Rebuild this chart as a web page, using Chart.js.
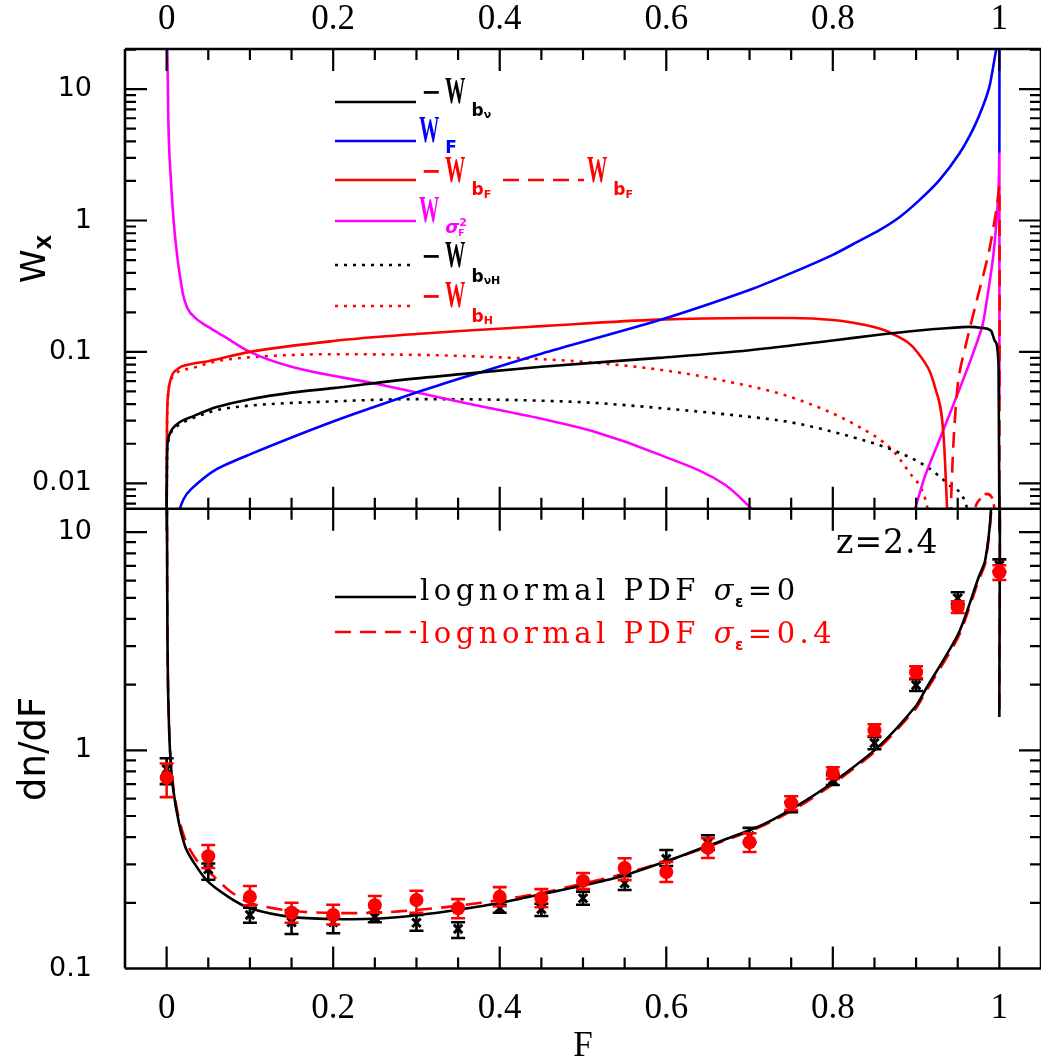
<!DOCTYPE html>
<html><head><meta charset="utf-8">
<script src="https://cdn.jsdelivr.net/npm/chart.js@4/dist/chart.umd.min.js"></script>
<style>html,body{margin:0;padding:0;background:#fff;}#wrap{position:relative;width:1041px;height:1059px;}</style>
</head><body><div id="wrap"><canvas id="c" width="1041" height="1059"></canvas></div>
<script>
// ---------- tick labels ----------
const xTickVals = [0, 0.2, 0.4, 0.6, 0.8, 1];
const topTickVals = [0.01, 0.1, 1, 10];
const botTickVals = [0.1, 1, 10];

// ---------- top panel: weights W_X(F) ----------
const bvF = [0, 0.0004, 0.0015, 0.004, 0.007, 0.015, 0.03, 0.06, 0.1, 0.15, 0.2, 0.28, 0.357, 0.45, 0.591, 0.7, 0.8, 0.855, 0.9, 0.94, 0.963, 0.98, 0.99, 0.995, 0.999, 1.0];
const bvW = [0.005, 0.015, 0.021, 0.024, 0.026, 0.029, 0.032, 0.038, 0.0436, 0.049, 0.053, 0.061, 0.068, 0.077, 0.09, 0.103, 0.122, 0.135, 0.145, 0.152, 0.155, 0.152, 0.145, 0.12, 0.08, 0.005];

const bvhF = [0, 0.0004, 0.0015, 0.005, 0.012, 0.03, 0.06, 0.1, 0.2, 0.3, 0.357, 0.45, 0.511, 0.6, 0.671, 0.751, 0.831, 0.871, 0.911, 0.939, 0.959, 0.965];
const bvhW = [0.005, 0.015, 0.02, 0.024, 0.027, 0.031, 0.036, 0.039, 0.042, 0.0437, 0.0436, 0.0425, 0.041, 0.037, 0.0335, 0.029, 0.0218, 0.018, 0.0136, 0.0098, 0.0072, 0.005];

const bFF = [0, 0.0004, 0.0015, 0.005, 0.013, 0.03, 0.05, 0.1, 0.2, 0.3, 0.357, 0.45, 0.591, 0.7, 0.75, 0.8, 0.831, 0.871, 0.903, 0.923, 0.933, 0.938];
const bFW = [0.005, 0.025, 0.045, 0.062, 0.074, 0.081, 0.085, 0.1, 0.121, 0.137, 0.145, 0.157, 0.176, 0.181, 0.181, 0.175, 0.164, 0.138, 0.097, 0.053, 0.023, 0.005];

const bFposF = [0.941, 0.945, 0.951, 0.963, 0.972, 0.987, 0.997, 1.0, 1.0];
const bFposW = [0.005, 0.021, 0.063, 0.138, 0.235, 0.56, 1.27, 1.8, 0.005];

const bFbumpF = [0.967, 0.972, 0.977, 0.985, 0.991, 0.993, 0.996];
const bFbumpW = [0.005, 0.0068, 0.0076, 0.0083, 0.0078, 0.0071, 0.005];

const bHF = [0, 0.0004, 0.0015, 0.005, 0.013, 0.03, 0.06, 0.1, 0.2, 0.3, 0.357, 0.45, 0.511, 0.6, 0.671, 0.751, 0.831, 0.871, 0.891, 0.911, 0.917];
const bHW = [0.005, 0.025, 0.045, 0.06, 0.07, 0.075, 0.085, 0.091, 0.096, 0.095, 0.093, 0.088, 0.083, 0.072, 0.06, 0.045, 0.027, 0.018, 0.0123, 0.0076, 0.005];

const wFF = [0.01, 0.02, 0.03, 0.06, 0.1, 0.2, 0.3, 0.357, 0.45, 0.591, 0.699, 0.75, 0.8, 0.83, 0.856, 0.88, 0.904, 0.928, 0.952, 0.968, 0.98, 0.988, 0.994, 0.997, 0.999, 1.0, 1.0];
const wFW = [0.005, 0.0075, 0.0091, 0.0128, 0.0166, 0.0295, 0.049, 0.064, 0.097, 0.174, 0.295, 0.398, 0.548, 0.69, 0.845, 1.06, 1.43, 2.03, 3.24, 4.9, 7.35, 10.4, 16.7, 22, 40, 40, 3.3];

const sigF1 = [0.0003, 0.002, 0.005, 0.009, 0.013, 0.0165, 0.0196, 0.025, 0.035, 0.05, 0.07, 0.1, 0.15, 0.25, 0.357, 0.45, 0.511, 0.591, 0.671, 0.705];
const sigW1 = [40, 6, 2.1, 0.9, 0.52, 0.36, 0.275, 0.215, 0.18, 0.155, 0.13, 0.1, 0.077, 0.0575, 0.041, 0.031, 0.025, 0.0166, 0.0097, 0.0062];

const sigF2 = [0.894, 0.91, 0.93, 0.951, 0.965, 0.979, 0.983, 0.993, 0.999, 1.0, 1.0];
const sigW2 = [0.005, 0.011, 0.023, 0.05, 0.085, 0.153, 0.206, 0.56, 1.7, 3.3, 0.042];

// ---------- bottom panel: PDF dn/dF ----------
const pdf0F = [0, 0.0008, 0.0016, 0.004, 0.008, 0.015, 0.024, 0.048, 0.075, 0.1, 0.151, 0.2, 0.25, 0.303, 0.35, 0.4, 0.45, 0.503, 0.543, 0.6, 0.65, 0.7, 0.727, 0.76, 0.799, 0.855, 0.9, 0.911, 0.951, 0.975, 0.983, 0.99, 0.994, 1.0, 1.0];
const pdf0V = [40, 4.5, 2.03, 1.0, 0.658, 0.46, 0.349, 0.254, 0.212, 0.189, 0.172, 0.1686, 0.169, 0.176, 0.186, 0.1995, 0.219, 0.2413, 0.2624, 0.31, 0.365, 0.43, 0.479, 0.565, 0.708, 1.04, 1.6, 1.89, 3.44, 6.2, 7.43, 12.8, 40, 40, 1.42];

const pdf4F = [0, 0.0008, 0.0016, 0.004, 0.008, 0.015, 0.024, 0.036, 0.05, 0.075, 0.1, 0.151, 0.2, 0.25, 0.3, 0.35, 0.4, 0.45, 0.5, 0.543, 0.6, 0.65, 0.7, 0.727, 0.76, 0.8, 0.855, 0.9, 0.911, 0.951, 0.975, 0.983, 0.99, 0.994, 1.0, 1.0];
const pdf4V = [40, 4.5, 2.05, 1.02, 0.68, 0.48, 0.375, 0.314, 0.28, 0.228, 0.1995, 0.1834, 0.1795, 0.18, 0.1853, 0.194, 0.2059, 0.222, 0.245, 0.268, 0.31, 0.362, 0.425, 0.473, 0.555, 0.7, 1.02, 1.56, 1.84, 3.33, 6.0, 7.2, 12.3, 40, 40, 1.42];

// measured dn/dF points
const binF = [0, 0.05, 0.1, 0.15, 0.2, 0.25, 0.3, 0.35, 0.4, 0.45, 0.5, 0.55, 0.6, 0.65, 0.7, 0.75, 0.8, 0.85, 0.9, 0.95, 1.0];
const obs0 = [0.82, 0.285, 0.176, 0.163, 0.163, 0.172, 0.162, 0.152, 0.189, 0.187, 0.21, 0.246, 0.318, 0.376, 0.405, 0.543, 0.73, 1.08, 1.99, 4.98, 7.05];
const obs0Lo = [0.70, 0.255, 0.162, 0.144, 0.145, 0.163, 0.149, 0.138, 0.18, 0.174, 0.196, 0.229, 0.295, 0.349, 0.379, 0.52, 0.694, 1.012, 1.87, 4.68, 6.6];
const obs0Hi = [0.92, 0.303, 0.19, 0.185, 0.17, 0.18, 0.176, 0.163, 0.196, 0.198, 0.225, 0.265, 0.349, 0.408, 0.441, 0.579, 0.77, 1.151, 2.12, 5.3, 7.5];
const obs4 = [0.75, 0.327, 0.213, 0.18, 0.176, 0.195, 0.206, 0.189, 0.213, 0.21, 0.252, 0.289, 0.277, 0.357, 0.379, 0.573, 0.787, 1.237, 2.28, 4.53, 6.55];
const obs4Lo = [0.61, 0.289, 0.195, 0.162, 0.159, 0.18, 0.18, 0.17, 0.193, 0.191, 0.231, 0.254, 0.249, 0.321, 0.342, 0.533, 0.739, 1.163, 2.14, 4.26, 6.03];
const obs4Hi = [0.87, 0.368, 0.239, 0.2, 0.196, 0.215, 0.227, 0.208, 0.236, 0.231, 0.274, 0.32, 0.308, 0.396, 0.417, 0.616, 0.837, 1.316, 2.43, 4.82, 7.05];

// ---------- helpers ----------
const pts = (xs, ys) => xs.map((x, i) => ({x, y: ys[i]}));
const RED = '#ff0000', BLUE = '#0000ff', MAG = '#ff00ff', BLK = '#000000';
function curve(label, xs, ys, color, axis, dash, mono) {
  const strict = xs.every((v, i) => i === 0 || v > xs[i - 1]);
  return {type: 'line', label, data: pts(xs, ys), borderColor: color, backgroundColor: color,
    borderWidth: 2.6, borderDash: dash || [], pointRadius: 0, tension: 0.25, fill: false,
    cubicInterpolationMode: (mono && strict) ? 'monotone' : 'default',
    xAxisID: 'x', yAxisID: axis, order: 5};
}

const datasets = [
  curve('-W_bv', bvF, bvW, BLK, 'yTop', [], true),
  curve('W_F', wFF, wFW, BLUE, 'yTop'),
  curve('-W_bF', bFF, bFW, RED, 'yTop', [], true),
  curve('W_bF', bFposF, bFposW, RED, 'yTop', [16, 9]),
  curve('W_bF bump', bFbumpF, bFbumpW, RED, 'yTop', [10, 6], true),
  curve('W_sigma1', sigF1, sigW1, MAG, 'yTop', [], true),
  curve('W_sigma2', sigF2, sigW2, MAG, 'yTop'),
  curve('-W_bvH', bvhF, bvhW, BLK, 'yTop', [3, 6], true),
  curve('-W_bH', bHF, bHW, RED, 'yTop', [3, 6], true),
  curve('pdf0', pdf0F, pdf0V, BLK, 'yBot'),
  curve('pdf4', pdf4F, pdf4V, RED, 'yBot', [16, 9]),
  {type: 'scatter', label: 'obs0', data: pts(binF, obs0), showLine: false, pointStyle: 'crossRot',
    pointRadius: 6, borderColor: BLK, borderWidth: 3, xAxisID: 'x', yAxisID: 'yBot', order: 2,
    errLo: obs0Lo, errHi: obs0Hi},
  {type: 'scatter', label: 'obs4', data: pts(binF, obs4), showLine: false, pointStyle: 'circle',
    pointRadius: 7, borderColor: RED, backgroundColor: RED, borderWidth: 0, xAxisID: 'x', yAxisID: 'yBot', order: 1,
    errLo: obs4Lo, errHi: obs4Hi}
];

// clip each dataset to its own panel, draw error bars under markers
const panelClip = {
  id: 'panelClip',
  beforeDatasetDraw(chart, args) {
    const m = args.meta, xs = chart.scales[m.xAxisID], ys = chart.scales[m.yAxisID];
    const ctx = chart.ctx;
    ctx.save(); ctx.beginPath();
    ctx.rect(xs.left, ys.top, xs.right - xs.left, ys.bottom - ys.top); ctx.clip();
    const ds = chart.data.datasets[args.index];
    if (ds.errLo) {
      ctx.strokeStyle = ds.borderColor; ctx.lineWidth = 2.6;
      ds.data.forEach((p, i) => {
        const px = xs.getPixelForValue(p.x), lo = ys.getPixelForValue(ds.errLo[i]), hi = ys.getPixelForValue(ds.errHi[i]);
        ctx.beginPath();
        ctx.moveTo(px, lo); ctx.lineTo(px, hi);
        ctx.moveTo(px - 7, lo); ctx.lineTo(px + 7, lo);
        ctx.moveTo(px - 7, hi); ctx.lineTo(px + 7, hi);
        ctx.stroke();
      });
    }
  },
  afterDatasetDraw(chart) { chart.ctx.restore(); }
};

// frame and inward tick marks
const frame = {
  id: 'frame',
  afterDraw(chart) {
    const ctx = chart.ctx, xs = chart.scales.x, yt = chart.scales.yTop, yb = chart.scales.yBot;
    const L = xs.left, R = xs.right, T = yt.top, M = yt.bottom, B = yb.bottom;
    ctx.save(); ctx.strokeStyle = '#000'; ctx.lineWidth = 2.6;
    ctx.beginPath();
    ctx.moveTo(L, T); ctx.lineTo(R, T); ctx.moveTo(L, M); ctx.lineTo(R, M);
    ctx.moveTo(L, B); ctx.lineTo(R, B); ctx.moveTo(L, T); ctx.lineTo(L, B);
    ctx.moveTo(R, T); ctx.lineTo(R, B);
    ctx.stroke();
    ctx.lineWidth = 2.2;
    ctx.beginPath();
    for (let k = 0; k <= 20; k++) {
      const px = xs.getPixelForValue(k * 0.05);
      const len = k % 4 === 0 ? 22 : 11;
      ctx.moveTo(px, T); ctx.lineTo(px, T + len);
      ctx.moveTo(px, M - len); ctx.lineTo(px, M + len);
      ctx.moveTo(px, B); ctx.lineTo(px, B - len);
    }
    for (const sc of [yt, yb]) {
      for (let d = -3; d <= 2; d++) for (let m = 1; m <= 9; m++) {
        const v = m * Math.pow(10, d);
        if (v < sc.min * 1.0001 || v > sc.max) continue;
        const py = sc.getPixelForValue(v);
        const len = m === 1 ? 22 : 11;
        ctx.moveTo(L, py); ctx.lineTo(L + len, py);
        ctx.moveTo(R, py); ctx.lineTo(R - len, py);
      }
    }
    ctx.stroke();
    ctx.restore();
  }
};

function run(ctx, x, y, parts) {
  let cx = x;
  for (const p of parts) {
    ctx.font = p.f;
    const w = ctx.measureText(p.t).width * (p.sx || 1);
    ctx.save(); ctx.translate(cx + (p.dx || 0), y + (p.dy || 0)); ctx.scale(p.sx || 1, 1);
    ctx.fillText(p.t, 0, 0); ctx.restore();
    cx += w + (p.dx || 0) + (p.gap || 0);
  }
  return cx;
}

const WF = 'bold 37px "Liberation Serif"';
const SUBF = 'bold 17px "DejaVu Sans"';
const TINYF = 'bold 11px "DejaVu Sans"';
const MINUS = {t: '\u2212', f: 'bold 24px "DejaVu Sans"', dy: -3, gap: 4};
const Wp = {t: 'W', f: WF, sx: 0.55, gap: 6};

const texts = {
  id: 'texts',
  afterDraw(chart) {
    const ctx = chart.ctx;
    ctx.save();
    ctx.textBaseline = 'alphabetic'; ctx.textAlign = 'left';
    const samples = [
      {y: 102, c: BLK, d: []}, {y: 141, c: BLUE, d: []}, {y: 180, c: RED, d: []},
      {y: 221, c: MAG, d: []}, {y: 265, c: BLK, d: [3, 6]}, {y: 306, c: RED, d: [3, 6]},
      {y: 597, c: BLK, d: []}, {y: 632, c: RED, d: [16, 9]}
    ];
    ctx.lineWidth = 2.6;
    for (const s of samples) {
      ctx.strokeStyle = s.c; ctx.setLineDash(s.d);
      ctx.beginPath(); ctx.moveTo(335, s.y); ctx.lineTo(416, s.y); ctx.stroke();
    }
    ctx.strokeStyle = RED; ctx.setLineDash([16, 9]);
    ctx.beginPath(); ctx.moveTo(503, 180); ctx.lineTo(584, 180); ctx.stroke();
    ctx.setLineDash([]);

    ctx.fillStyle = BLK;
    run(ctx, 421, 103, [MINUS, Wp, {t: 'b', f: SUBF, dy: 13}, {t: '\u03bd', f: TINYF, dy: 15}]);
    ctx.fillStyle = BLUE;
    run(ctx, 419, 142, [Wp, {t: 'F', f: SUBF, dy: 11}]);
    ctx.fillStyle = RED;
    run(ctx, 421, 182, [MINUS, Wp, {t: 'b', f: SUBF, dy: 13}, {t: 'F', f: TINYF, dy: 16}]);
    run(ctx, 587, 182, [Wp, {t: 'b', f: SUBF, dy: 13}, {t: 'F', f: TINYF, dy: 16}]);
    ctx.fillStyle = MAG;
    const cx = run(ctx, 419, 222, [Wp, {t: '\u03c3', f: 'bold italic 18px "DejaVu Sans"', dy: 11}]);
    run(ctx, cx, 222, [{t: '2', f: TINYF, dy: 4}]);
    run(ctx, cx - 1, 222, [{t: 'F', f: 'bold 9px "DejaVu Sans"', dy: 14}]);
    ctx.fillStyle = BLK;
    run(ctx, 421, 267, [MINUS, Wp, {t: 'b', f: SUBF, dy: 15}, {t: '\u03bdH', f: TINYF, dy: 17}]);
    ctx.fillStyle = RED;
    run(ctx, 421, 307, [MINUS, Wp, {t: 'b', f: SUBF, dy: 15}, {t: 'H', f: TINYF, dy: 17}]);

    // bottom legend
    ctx.letterSpacing = '4.5px';
    ctx.fillStyle = BLK;
    let e = run(ctx, 420, 600, [{t: 'lognormal PDF ', f: '29px "DejaVu Serif"'}, {t: '\u03c3', f: 'italic 29px "DejaVu Serif"'}]);
    run(ctx, e - 3, 600, [{t: '\u03b5', f: 'bold 15px "DejaVu Sans"', dy: 7}, {t: '=0', f: '29px "DejaVu Serif"'}]);
    ctx.fillStyle = RED;
    e = run(ctx, 420, 643, [{t: 'lognormal PDF ', f: '29px "DejaVu Serif"'}, {t: '\u03c3', f: 'italic 29px "DejaVu Serif"'}]);
    run(ctx, e - 3, 643, [{t: '\u03b5', f: 'bold 15px "DejaVu Sans"', dy: 7}, {t: '=0.4', f: '29px "DejaVu Serif"'}]);
    ctx.letterSpacing = '1px';
    ctx.fillStyle = BLK;
    run(ctx, 836, 553, [{t: 'z=2.4', f: '33px "DejaVu Serif"'}]);
    ctx.letterSpacing = '0px';

    // axis titles
    ctx.save(); ctx.translate(45, 283); ctx.rotate(-Math.PI / 2);
    run(ctx, 0, 0, [{t: 'W', f: '34px "DejaVu Sans"'}, {t: 'X', f: 'bold 19px "DejaVu Sans"', dy: 6}]);
    ctx.restore();
    ctx.save(); ctx.translate(45, 801); ctx.rotate(-Math.PI / 2);
    run(ctx, 0, 0, [{t: 'dn/dF', f: '37px "DejaVu Sans"'}]);
    ctx.restore();
    ctx.textAlign = 'center';
    ctx.font = '35px "Liberation Serif"';
    ctx.fillText('F', 583, 1056);
    ctx.restore();
  }
};

const fmt = v => String(Math.round(v * 1000) / 1000);
const xTickFont = {family: 'Liberation Serif', size: 35};
const yTickFont = {family: 'DejaVu Sans', size: 27};
const zeroPadX = s => { s.paddingLeft = 0; s.paddingRight = 0; };
const zeroPadY = s => { s.paddingTop = 0; s.paddingBottom = 0; };

new Chart(document.getElementById('c'), {
  type: 'line',
  data: {datasets},
  options: {
    responsive: false, animation: false, devicePixelRatio: 1,
    layout: {autoPadding: false, padding: {left: 0, top: 0, right: -1, bottom: 0}},
    plugins: {legend: {display: false}, tooltip: {enabled: false}},
    scales: {
      x: {type: 'linear', position: 'bottom', min: -0.05, max: 1.05,
        afterBuildTicks: s => { s.ticks = xTickVals.map(v => ({value: v})); },
        afterFit: s => { s.height = 90.5; zeroPadX(s); },
        ticks: {callback: fmt, font: xTickFont, color: '#000', padding: 11, maxRotation: 0, autoSkip: false},
        grid: {display: false}, border: {display: false}},
      x2: {type: 'linear', axis: 'x', position: 'top', min: -0.05, max: 1.05,
        afterBuildTicks: s => { s.ticks = xTickVals.map(v => ({value: v})); },
        afterFit: s => { s.height = 49; zeroPadX(s); },
        ticks: {callback: fmt, font: xTickFont, color: '#000', padding: 0, maxRotation: 0, autoSkip: false},
        grid: {display: false}, border: {display: false}},
      yBot: {type: 'logarithmic', position: 'left', stack: 'panels', stackWeight: 1, min: 0.1, max: 12.8,
        afterBuildTicks: s => { s.ticks = botTickVals.map(v => ({value: v})); },
        afterFit: s => { s.width = 125; zeroPadY(s); },
        ticks: {callback: fmt, font: yTickFont, color: '#000', padding: 25, autoSkip: false},
        grid: {display: false}, border: {display: false}},
      yTop: {type: 'logarithmic', position: 'left', stack: 'panels', stackWeight: 1, min: 0.0064, max: 20.2,
        afterBuildTicks: s => { s.ticks = topTickVals.map(v => ({value: v})); },
        afterFit: s => { s.width = 125; zeroPadY(s); },
        ticks: {callback: fmt, font: yTickFont, color: '#000', padding: 25, autoSkip: false},
        grid: {display: false}, border: {display: false}}
    }
  },
  plugins: [panelClip, frame, texts]
});
</script></body></html>
